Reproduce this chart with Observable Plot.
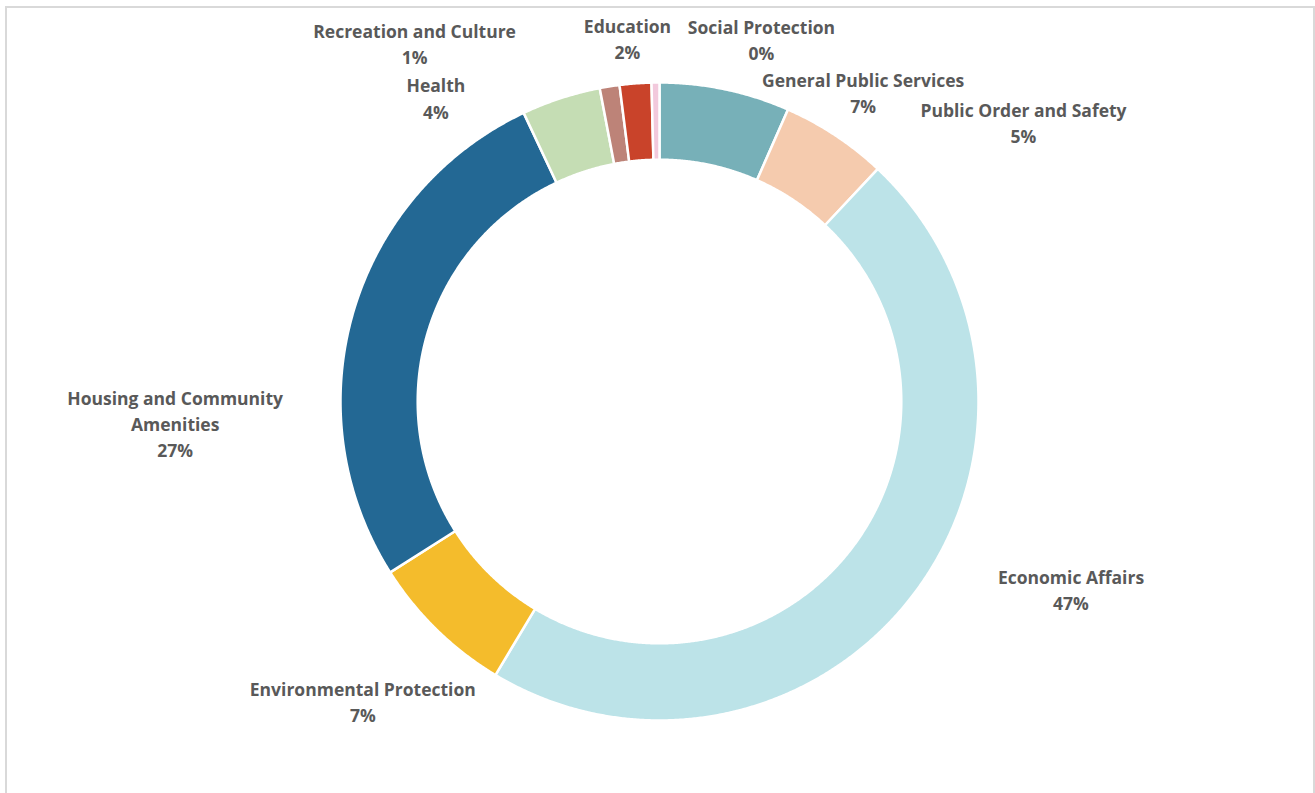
<!DOCTYPE html>
<html>
<head>
<meta charset="utf-8">
<script src="https://cdn.jsdelivr.net/npm/d3@7"></script>
<script src="https://cdn.jsdelivr.net/npm/@observablehq/plot@0.6"></script>
<style>
  html, body { margin: 0; padding: 0; background: #fff; overflow: hidden; }
  #wrap { position: relative; width: 1315px; height: 793px; }
  #border { position: absolute; left: 5px; top: 6px; width: 1306px; height: 800px;
            border: 2px solid #d9d9d9; border-bottom: none; pointer-events: none; }
</style>
</head>
<body>
<div id="wrap"><div id="border"></div><div id="chart"></div></div>
<script>
// ---- data ----
const categories = [
  "General Public Services",
  "Public Order and Safety",
  "Economic Affairs",
  "Environmental Protection",
  "Housing and Community Amenities",
  "Health",
  "Recreation and Culture",
  "Education",
  "Social Protection"
];
const shares = [6.6, 5.4, 46.6, 7.4, 27.0, 4.0, 1.0, 1.6, 0.4];
const colors = ["#77b0b8", "#f5cbae", "#bce3e8", "#f4bc2c", "#236894", "#c5ddb4", "#bd8378", "#c9432a", "#f2c9dc"];
const labelText = [
  "General Public Services",
  "Public Order and Safety",
  "Economic Affairs",
  "Environmental Protection",
  "Housing and Community\nAmenities",
  "Health",
  "Recreation and Culture",
  "Education",
  "Social Protection"
];

// ---- layout / style (pixel offsets of labels from slice outer midpoint) ----
const labelOffset = [
  [138, 2], [188, -14], [157, -5], [-74, 71], [-178, 110],
  [-125, -1], [-195, -44], [-8, -46], [106, -44]
];
const innerRatio = 0.758;

// ---- geometry built from the data ----
const total = d3.sum(shares);
const pie = d3.pie().sort(null).value(d => d)(shares);
function pt(r, a) { return [r * Math.sin(a), r * Math.cos(a)]; }
function ring(a0, a1, r0, r1) {
  const n = Math.max(4, Math.ceil((a1 - a0) / 0.005));
  const outer = d3.range(n + 1).map(i => pt(r1, a0 + (a1 - a0) * i / n));
  const inner = d3.range(n + 1).map(i => pt(r0, a1 - (a1 - a0) * i / n));
  const coords = outer.concat(inner);
  coords.push(coords[0]);
  return coords;
}
const slices = {
  type: "FeatureCollection",
  features: pie.map((p, i) => ({
    type: "Feature",
    properties: { name: categories[i] },
    geometry: { type: "Polygon", coordinates: [ring(p.startAngle, p.endAngle, innerRatio, 1)] }
  }))
};
const outline = {
  type: "Polygon",
  coordinates: [d3.range(0, 361, 2).map(d => pt(1, d * Math.PI / 180))]
};
const labels = pie.map((p, i) => {
  const [x, y] = pt(1, (p.startAngle + p.endAngle) / 2);
  return {
    x, y,
    text: labelText[i] + "\n" + Math.round(shares[i] / total * 100) + "%",
    dx: labelOffset[i][0], dy: labelOffset[i][1]
  };
});

const chart = Plot.plot({
  width: 1315,
  height: 793,
  marginTop: 82,
  marginBottom: 73,
  marginLeft: 3,
  marginRight: 0,
  projection: { type: "reflect-y", domain: outline },
  color: { domain: categories, range: colors },
  style: { fontFamily: "'Open Sans', Lato, sans-serif", background: "transparent", overflow: "visible" },
  marks: [
    Plot.geo(slices, { fill: d => d.properties.name, stroke: "white", strokeWidth: 2.5 }),
    ...labels.map(l => Plot.text([l], {
      x: "x", y: "y", text: "text", dx: l.dx, dy: l.dy,
      fill: "#595959", fontWeight: "bold", fontSize: 17.5, lineHeight: 1.5, textAnchor: "middle"
    }))
  ]
});
document.getElementById("chart").appendChild(chart);
</script>
</body>
</html>
